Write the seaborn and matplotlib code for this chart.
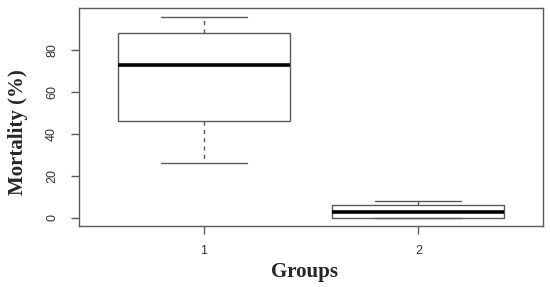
import seaborn as sns
import pandas as pd
import matplotlib.pyplot as plt

group_1 = [26, 46, 73, 88, 96]
group_2 = [0, 0, 3, 6, 8]
group_names = ["1", "2"]

df = pd.DataFrame({
    "Groups": [group_names[0]] * len(group_1) + [group_names[1]] * len(group_2),
    "Mortality": group_1 + group_2,
})

sns.set_style("white")
plt.rcParams["font.family"] = ["Liberation Sans", "DejaVu Sans"]
fig = plt.figure(figsize=(5.5, 2.87), dpi=100)
ax = fig.add_axes([0.1436, 0.2125, 0.8437, 0.758])

edge = "#5a5a5a"
sns.boxplot(data=df, x="Groups", y="Mortality", ax=ax, whis=(0, 100),
            width=0.8, color="white", linecolor=edge, linewidth=1,
            medianprops=dict(color="black", linewidth=2.6),
            whiskerprops=dict(linestyle=(0, (3, 3)), color=edge),
            capprops=dict(color=edge), showfliers=False)

ax.set_xlim(-0.58, 1.58)
ax.set_ylim(-3.84, 99.84)
ax.set_yticks([0, 20, 40, 60, 80])
ax.tick_params(axis="both", direction="out", length=6, width=1, color=edge,
               labelcolor="#333333", labelsize=9, left=True, bottom=True)
ax.tick_params(axis="x", pad=8)
ax.tick_params(axis="y", pad=9)
for lab in ax.get_yticklabels():
    lab.set_rotation(90)
    lab.set_va("center")
for side in ax.spines.values():
    side.set_color(edge)
    side.set_linewidth(1)

ax.set_xlabel("Groups", family="Liberation Serif", fontweight="bold", fontsize=15)
ax.set_ylabel("Mortality (%)", family="Liberation Serif", fontweight="bold", fontsize=15)
ax.xaxis.set_label_coords(0.485, -0.165)
ax.yaxis.set_label_coords(-0.11, 0.43)

fig.savefig("out.png", dpi=100)
